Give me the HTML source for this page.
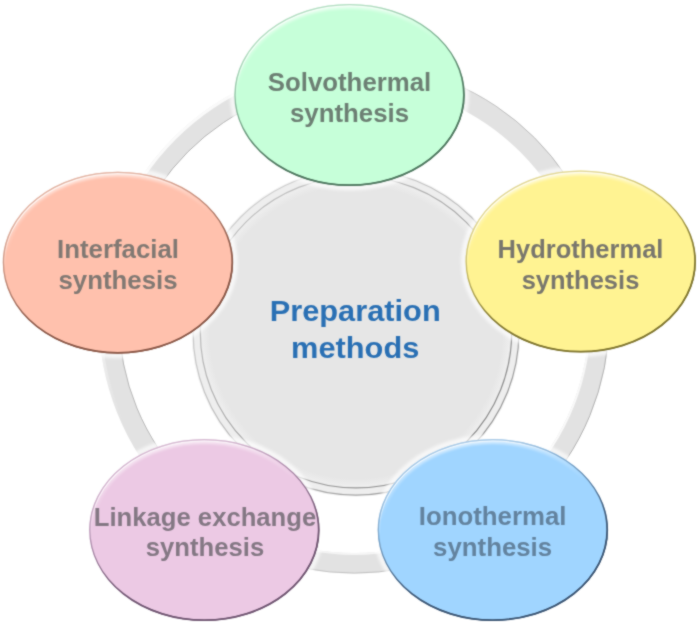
<!DOCTYPE html>
<html>
<head>
<meta charset="utf-8">
<title>Preparation methods</title>
<style>
html,body{margin:0;padding:0;background:#fff;}
body{width:700px;height:625px;overflow:hidden;}
svg{display:block;}
text{font-family:"Liberation Sans",Arial,sans-serif;font-weight:bold;text-anchor:middle;}
.lbl text{font-size:25px;}
.ctr{font-size:29.8px;fill:#2a70b4;}
</style>
</head>
<body>
<svg width="700" height="625" viewBox="0 0 700 625">
  <defs>
    <filter id="b2" x="-10%" y="-10%" width="120%" height="120%"><feGaussianBlur stdDeviation="1.6"/></filter>
    <filter id="b1" x="-10%" y="-10%" width="120%" height="120%"><feGaussianBlur stdDeviation="1.3"/></filter>
    <filter id="soft" x="0" y="0" width="700" height="625" filterUnits="userSpaceOnUse" color-interpolation-filters="sRGB"><feConvolveMatrix order="3" kernelMatrix="1 2 1 2 12 2 1 2 1" edgeMode="duplicate" preserveAlpha="true"/></filter>
    <linearGradient id="hl2" x1="0.25" y1="0" x2="0.75" y2="1">
      <stop offset="0" stop-color="#ffffff" stop-opacity="0.8"/><stop offset="0.15" stop-color="#ffffff" stop-opacity="0.7"/><stop offset="0.33" stop-color="#ffffff" stop-opacity="0"/><stop offset="1" stop-color="#ffffff" stop-opacity="0"/>
    </linearGradient>
    <linearGradient id="hl" x1="0.3" y1="0" x2="0.55" y2="1">
      <stop offset="0" stop-color="#ffffff" stop-opacity="0.6"/><stop offset="0.15" stop-color="#ffffff" stop-opacity="0.35"/><stop offset="0.35" stop-color="#ffffff" stop-opacity="0"/><stop offset="1" stop-color="#ffffff" stop-opacity="0"/>
    </linearGradient>
    <linearGradient id="eG" x1="0.25" y1="0" x2="0.75" y2="1">
      <stop offset="0" stop-color="#b4dcc2"/><stop offset="0.13" stop-color="#b4dcc2"/><stop offset="0.32" stop-color="#8fbfa2"/><stop offset="0.65" stop-color="#4f7860"/><stop offset="1" stop-color="#4f7860"/>
    </linearGradient>
    <linearGradient id="dkG" x1="0.25" y1="0" x2="0.75" y2="1">
      <stop offset="0" stop-color="#4f7860" stop-opacity="0"/><stop offset="0.5" stop-color="#4f7860" stop-opacity="0"/><stop offset="0.75" stop-color="#4f7860" stop-opacity="1"/><stop offset="1" stop-color="#4f7860" stop-opacity="1"/>
    </linearGradient>
    <linearGradient id="eS" x1="0.25" y1="0" x2="0.75" y2="1">
      <stop offset="0" stop-color="#e0b4a4"/><stop offset="0.13" stop-color="#e0b4a4"/><stop offset="0.32" stop-color="#c99482"/><stop offset="0.65" stop-color="#8a5848"/><stop offset="1" stop-color="#8a5848"/>
    </linearGradient>
    <linearGradient id="dkS" x1="0.25" y1="0" x2="0.75" y2="1">
      <stop offset="0" stop-color="#8a5848" stop-opacity="0"/><stop offset="0.5" stop-color="#8a5848" stop-opacity="0"/><stop offset="0.75" stop-color="#8a5848" stop-opacity="1"/><stop offset="1" stop-color="#8a5848" stop-opacity="1"/>
    </linearGradient>
    <linearGradient id="eY" x1="0.25" y1="0" x2="0.75" y2="1">
      <stop offset="0" stop-color="#e0d698"/><stop offset="0.13" stop-color="#e0d698"/><stop offset="0.32" stop-color="#c9bd66"/><stop offset="0.65" stop-color="#80762f"/><stop offset="1" stop-color="#80762f"/>
    </linearGradient>
    <linearGradient id="dkY" x1="0.25" y1="0" x2="0.75" y2="1">
      <stop offset="0" stop-color="#80762f" stop-opacity="0"/><stop offset="0.5" stop-color="#80762f" stop-opacity="0"/><stop offset="0.75" stop-color="#80762f" stop-opacity="1"/><stop offset="1" stop-color="#80762f" stop-opacity="1"/>
    </linearGradient>
    <linearGradient id="eP" x1="0.25" y1="0" x2="0.75" y2="1">
      <stop offset="0" stop-color="#d4b8d0"/><stop offset="0.13" stop-color="#d4b8d0"/><stop offset="0.32" stop-color="#b898b6"/><stop offset="0.65" stop-color="#705672"/><stop offset="1" stop-color="#705672"/>
    </linearGradient>
    <linearGradient id="dkP" x1="0.25" y1="0" x2="0.75" y2="1">
      <stop offset="0" stop-color="#705672" stop-opacity="0"/><stop offset="0.5" stop-color="#705672" stop-opacity="0"/><stop offset="0.75" stop-color="#705672" stop-opacity="1"/><stop offset="1" stop-color="#705672" stop-opacity="1"/>
    </linearGradient>
    <linearGradient id="eB" x1="0.25" y1="0" x2="0.75" y2="1">
      <stop offset="0" stop-color="#a8c8e4"/><stop offset="0.13" stop-color="#a8c8e4"/><stop offset="0.32" stop-color="#7fa8cc"/><stop offset="0.65" stop-color="#3c5674"/><stop offset="1" stop-color="#3c5674"/>
    </linearGradient>
    <linearGradient id="dkB" x1="0.25" y1="0" x2="0.75" y2="1">
      <stop offset="0" stop-color="#3c5674" stop-opacity="0"/><stop offset="0.5" stop-color="#3c5674" stop-opacity="0"/><stop offset="0.75" stop-color="#3c5674" stop-opacity="1"/><stop offset="1" stop-color="#3c5674" stop-opacity="1"/>
    </linearGradient>
    <linearGradient id="rO" x1="0" y1="0.35" x2="1" y2="0.65">
      <stop offset="0" stop-color="#c0c0c0" stop-opacity="0"/><stop offset="0.35" stop-color="#c0c0c0" stop-opacity="0"/><stop offset="0.58" stop-color="#bcbcbc" stop-opacity="0.8"/><stop offset="1" stop-color="#b0b0b0" stop-opacity="1"/>
    </linearGradient>
    <linearGradient id="rI" x1="0" y1="0.35" x2="1" y2="0.65">
      <stop offset="0" stop-color="#b0b0b0" stop-opacity="1"/><stop offset="0.3" stop-color="#b8b8b8" stop-opacity="0.8"/><stop offset="0.5" stop-color="#b8b8b8" stop-opacity="0"/><stop offset="1" stop-color="#b8b8b8" stop-opacity="0"/>
    </linearGradient>
    <linearGradient id="rH" x1="0.15" y1="0.15" x2="0.85" y2="0.85">
      <stop offset="0" stop-color="#fafafa" stop-opacity="1"/><stop offset="0.15" stop-color="#f6f6f6" stop-opacity="0.85"/><stop offset="0.32" stop-color="#f0f0f0" stop-opacity="0"/><stop offset="1" stop-color="#f0f0f0" stop-opacity="0"/>
    </linearGradient>
    <linearGradient id="rH2" x1="0.15" y1="0.15" x2="0.85" y2="0.85">
      <stop offset="0" stop-color="#f0f0f0" stop-opacity="0"/><stop offset="0.55" stop-color="#f0f0f0" stop-opacity="0"/><stop offset="0.8" stop-color="#f6f6f6" stop-opacity="0.9"/><stop offset="1" stop-color="#fafafa" stop-opacity="1"/>
    </linearGradient>
    <linearGradient id="dO" x1="0.15" y1="0.15" x2="0.85" y2="0.85">
      <stop offset="0" stop-color="#cecece"/><stop offset="0.5" stop-color="#bcbcbc"/><stop offset="1" stop-color="#9a9a9a"/>
    </linearGradient>
    <linearGradient id="dI" x1="0.15" y1="0.15" x2="0.85" y2="0.85">
      <stop offset="0" stop-color="#c0c0c0"/><stop offset="0.5" stop-color="#aaaaaa"/><stop offset="1" stop-color="#8c8c8c"/>
    </linearGradient>
    <radialGradient id="dF" cx="0.5" cy="0.5" r="0.5">
      <stop offset="0" stop-color="#e6e6e6"/><stop offset="0.94" stop-color="#e6e6e6"/><stop offset="1" stop-color="#efefef"/>
    </radialGradient>
  </defs>
  <g filter="url(#soft)">
  <rect width="700" height="625" fill="#ffffff"/>
  <!-- outer ring -->
  <circle cx="354.2" cy="318.1" r="245.1" fill="none" stroke="#e2e2e2" stroke-width="20.4"/>
  <circle cx="354.2" cy="318.1" r="254" fill="none" stroke="url(#rH)" stroke-width="3"/>
  <circle cx="354.2" cy="318.1" r="235.9" fill="none" stroke="url(#rH2)" stroke-width="2"/>
  <circle cx="354.2" cy="318.1" r="255" fill="none" stroke="url(#rO)" stroke-width="1"/>
  <circle cx="354.2" cy="318.1" r="235.2" fill="none" stroke="url(#rI)" stroke-width="1"/>
  <!-- central disc -->
  <circle cx="356" cy="332.2" r="164.6" fill="#f6f6f6"/>
  <circle cx="356" cy="332.2" r="162.9" fill="#eeeeee" stroke="url(#dO)" stroke-width="1.2"/>
  <circle cx="356" cy="332.2" r="155.7" fill="url(#dF)" stroke="url(#dI)" stroke-width="1.2"/>
  <text class="ctr" transform="translate(355.2 320.5) scale(1.033 1)">Preparation</text>
  <text class="ctr" transform="translate(355.2 357.8) scale(1.033 1)">methods</text>
  <!-- ellipses with labels -->
  <g class="lbl">
  <g>
    <ellipse cx="349.5" cy="94.9" rx="117.0" ry="92.8" fill="none" stroke="#ffffff" stroke-opacity="0.68" stroke-width="5.5" filter="url(#b2)"/>
    <ellipse cx="349.5" cy="94.9" rx="115.0" ry="90.8" fill="#c6ffd9"/>
    <ellipse cx="349.5" cy="94.9" rx="112.4" ry="88.2" fill="none" stroke="url(#hl)" stroke-width="4" filter="url(#b1)"/>
    <ellipse cx="349.5" cy="94.9" rx="113.3" ry="89.1" fill="none" stroke="url(#hl2)" stroke-width="1.4"/>
    <ellipse cx="349.5" cy="94.9" rx="114.5" ry="90.3" fill="none" stroke="url(#eG)" stroke-width="1.3"/>
    <ellipse cx="349.5" cy="94.9" rx="114.4" ry="90.2" fill="none" stroke="url(#dkG)" stroke-width="1.8"/>
    <text fill="#6d8074" transform="translate(349.5 90.8) scale(1.033 1)">Solvothermal</text>
    <text fill="#6d8074" transform="translate(349.5 121.6) scale(1.033 1)">synthesis</text>
  </g>
  <g>
    <ellipse cx="117.9" cy="262.6" rx="117.0" ry="92.8" fill="none" stroke="#ffffff" stroke-opacity="0.68" stroke-width="5.5" filter="url(#b2)"/>
    <ellipse cx="117.9" cy="262.6" rx="115.0" ry="90.8" fill="#ffc1ad"/>
    <ellipse cx="117.9" cy="262.6" rx="112.4" ry="88.2" fill="none" stroke="url(#hl)" stroke-width="4" filter="url(#b1)"/>
    <ellipse cx="117.9" cy="262.6" rx="113.3" ry="89.1" fill="none" stroke="url(#hl2)" stroke-width="1.4"/>
    <ellipse cx="117.9" cy="262.6" rx="114.5" ry="90.3" fill="none" stroke="url(#eS)" stroke-width="1.3"/>
    <ellipse cx="117.9" cy="262.6" rx="114.4" ry="90.2" fill="none" stroke="url(#dkS)" stroke-width="1.8"/>
    <text fill="#827973" transform="translate(118 257.8) scale(1.033 1)">Interfacial</text>
    <text fill="#827973" transform="translate(118 289.0) scale(1.033 1)">synthesis</text>
  </g>
  <g>
    <ellipse cx="580.7" cy="261.4" rx="117.0" ry="92.8" fill="none" stroke="#ffffff" stroke-opacity="0.68" stroke-width="5.5" filter="url(#b2)"/>
    <ellipse cx="580.7" cy="261.4" rx="115.0" ry="90.8" fill="#fff392"/>
    <ellipse cx="580.7" cy="261.4" rx="112.4" ry="88.2" fill="none" stroke="url(#hl)" stroke-width="4" filter="url(#b1)"/>
    <ellipse cx="580.7" cy="261.4" rx="113.3" ry="89.1" fill="none" stroke="url(#hl2)" stroke-width="1.4"/>
    <ellipse cx="580.7" cy="261.4" rx="114.5" ry="90.3" fill="none" stroke="url(#eY)" stroke-width="1.3"/>
    <ellipse cx="580.7" cy="261.4" rx="114.4" ry="90.2" fill="none" stroke="url(#dkY)" stroke-width="1.8"/>
    <text fill="#79776d" transform="translate(580.5 257.8) scale(1.02 1)">Hydrothermal</text>
    <text fill="#79776d" transform="translate(580.5 289.0) scale(1.02 1)">synthesis</text>
  </g>
  <g>
    <ellipse cx="204.3" cy="530.0" rx="117.0" ry="92.8" fill="none" stroke="#ffffff" stroke-opacity="0.68" stroke-width="5.5" filter="url(#b2)"/>
    <ellipse cx="204.3" cy="530.0" rx="115.0" ry="90.8" fill="#ecc9e4"/>
    <ellipse cx="204.3" cy="530.0" rx="112.4" ry="88.2" fill="none" stroke="url(#hl)" stroke-width="4" filter="url(#b1)"/>
    <ellipse cx="204.3" cy="530.0" rx="113.3" ry="89.1" fill="none" stroke="url(#hl2)" stroke-width="1.4"/>
    <ellipse cx="204.3" cy="530.0" rx="114.5" ry="90.3" fill="none" stroke="url(#eP)" stroke-width="1.3"/>
    <ellipse cx="204.3" cy="530.0" rx="114.4" ry="90.2" fill="none" stroke="url(#dkP)" stroke-width="1.8"/>
    <text fill="#847884" transform="translate(205 525.5) scale(1.027 1)">Linkage exchange</text>
    <text fill="#847884" transform="translate(205 556.3) scale(1.027 1)">synthesis</text>
  </g>
  <g>
    <ellipse cx="492.8" cy="530.0" rx="117.0" ry="92.8" fill="none" stroke="#ffffff" stroke-opacity="0.68" stroke-width="5.5" filter="url(#b2)"/>
    <ellipse cx="492.8" cy="530.0" rx="115.0" ry="90.8" fill="#a0d5ff"/>
    <ellipse cx="492.8" cy="530.0" rx="112.4" ry="88.2" fill="none" stroke="url(#hl)" stroke-width="4" filter="url(#b1)"/>
    <ellipse cx="492.8" cy="530.0" rx="113.3" ry="89.1" fill="none" stroke="url(#hl2)" stroke-width="1.4"/>
    <ellipse cx="492.8" cy="530.0" rx="114.5" ry="90.3" fill="none" stroke="url(#eB)" stroke-width="1.3"/>
    <ellipse cx="492.8" cy="530.0" rx="114.4" ry="90.2" fill="none" stroke="url(#dkB)" stroke-width="1.8"/>
    <text fill="#63839f" transform="translate(492.6 524.6) scale(1.033 1)">Ionothermal</text>
    <text fill="#63839f" transform="translate(492.6 555.5) scale(1.033 1)">synthesis</text>
  </g>
  </g>
  </g>
</svg>
</body>
</html>
